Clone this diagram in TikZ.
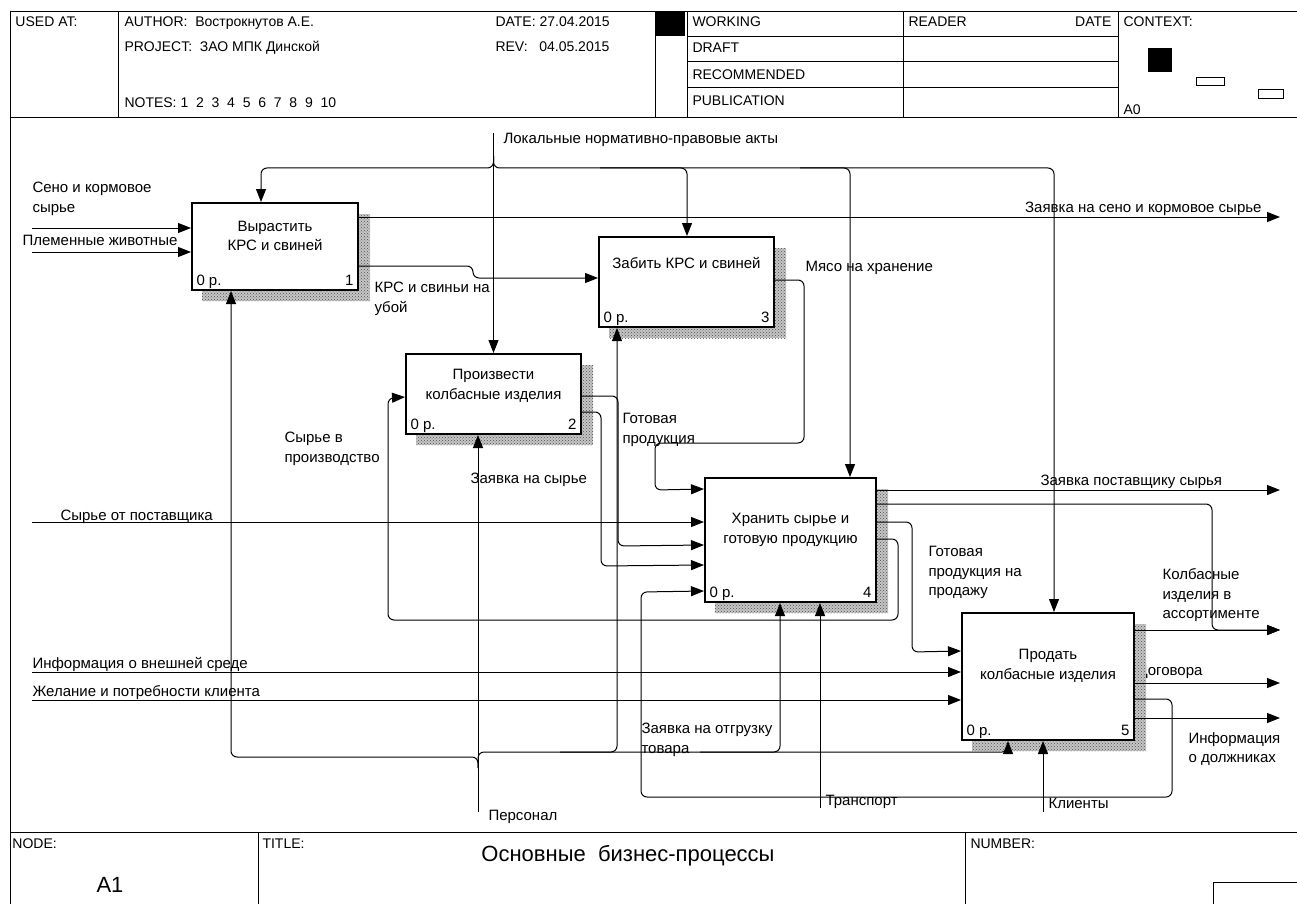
\documentclass[tikz,border=0pt]{standalone}
\usepackage{fontspec}
\setmainfont{Liberation Sans}
\usetikzlibrary{arrows.meta, positioning, calc, patterns}

\begin{document}
\begin{tikzpicture}[x=1pt, y=-1pt, line width=1pt, font=\fontsize{15}{19.5}\selectfont,
    box/.style={draw, line width=2pt, fill=white, inner sep=0pt},
    lbl/.style={inner sep=0pt, align=left, anchor=north west},
    hdr/.style={inner sep=0pt, anchor=base west, font=\fontsize{14}{16}\selectfont},
    shade/.style={pattern=crosshatch dots, pattern color=gray!60!black, preaction={fill=gray!45}},
    arr/.style={-{Triangle[length=13pt, width=10pt]}},
    elbow/.style={rounded corners=6pt}]
    \useasboundingbox (0,0) rectangle (1297,904);

    \draw (10,904) |- (1297,12);
    \draw (10,118) -- (1297,118);
    \draw (10,832) -- (1297,832);
    \foreach \x in {118,655,687,903,1118}
        \draw (\x,12) -- (\x,118);
    \foreach \y in {37,62,88}
        \draw (687,\y) -- (1118,\y);
    \foreach \x in {258,965}
        \draw (\x,832) -- (\x,904);
    \fill (656,12) rectangle (685,36);
    \fill (1148,48) rectangle (1172,72);
    \draw (1196,78) rectangle (1224,86);
    \draw (1258,90) rectangle (1283,99);
    \draw (1213,904) |- (1297,882);

    \foreach \x/\y/\txt [count=\i] in {
        15/27/{USED AT:},
        124/27/{AUTHOR:\ \ Вострокнутов А.Е.},
        124/52/{PROJECT:\ \ ЗАО МПК Динской},
        124/108/{NOTES:\ 1\ \ 2\ \ 3\ \ 4\ \ 5\ \ 6\ \ 7\ \ 8\ \ 9\ \ 10},
        495/27/{DATE: 27.04.2015},
        495/52/{REV:\ \ \ 04.05.2015},
        692/27/{WORKING},
        692/53/{DRAFT},
        692/80/{RECOMMENDED},
        692/106/{PUBLICATION},
        908/27/{READER},
        1123/27/{CONTEXT:},
        1123/115/{A0},
        12/848/{NODE:},
        262/848/{TITLE:},
        970/848/{NUMBER:}}
    {
        \node[hdr] (h\i) at (\x,\y) {\txt};
    }
    \node[hdr, anchor=base east] (hdate) at (1112,27) {DATE};
    \node[font=\fontsize{22}{24}\selectfont] (node) at (110,885) {A1};
    \node[font=\fontsize{22}{24}\selectfont] (title) at (628,856) {Основные\ \ бизнес-процессы};

    \node[lbl] (dog) at (1137,665) {Договора};

    \foreach \i/\cx/\cy/\w/\h/\ty/\txt in {
        1/275/246.5/166/87/236/{Вырастить\\КРС и свиней},
        2/493.5/394/175/80/386/{Произвести\\колбасные изделия},
        3/686.5/282/175/90/263/{Забить КРС и свиней},
        4/790.5/540/171/124/530/{Хранить сырье и\\готовую продукцию},
        5/1048/676.5/172/127/666/{Продать\\колбасные изделия}}
    {
        \fill[shade] (\cx-\w/2+10,\cy-\h/2+11) rectangle (\cx+\w/2+12,\cy+\h/2+11);
        \node[box, minimum width=\w pt, minimum height=\h pt] (b\i) at (\cx,\cy) {};
        \node[align=center] (t\i) at (\cx,\ty) {\txt};
        \node[anchor=base west, inner sep=0pt] (p\i) at ([xshift=5pt, yshift=6pt]b\i.south west) {0 р.};
        \node[anchor=base east, inner sep=0pt] (k\i) at ([xshift=-5pt, yshift=6pt]b\i.south east) {\i};
    }

    \foreach \c/\x/\y in {sn/32/228, pz/32/252, sp/32/522, iv/32/672, zk/32/700,
        zs/1280/217, zp/1280/490, ka/1280/630, dg/1280/683, id/1280/718,
        lk/493.5/133, ps/478/812, tr/820/808, kl/1043/812}
        \coordinate (\c) at (\x,\y);

    \foreach \c/\b in {sn/1, pz/1, sp/4, iv/5, zk/5}
        \draw[arr] (\c) -- (\c -| b\b.west);
    \foreach \c/\b in {zs/1, zp/4, ka/5, dg/5, id/5}
        \draw[arr] (b\b.east |- \c) -- (\c);
    \draw[arr] (lk) -- (b2.north);
    \foreach \c/\b in {ps/2, tr/4, kl/5}
        \draw[arr] (\c) -- (\c |- b\b.south);

    \draw[arr, elbow] (493.5,156) |- (400,168) -| ($(b1.north west)+(70,0)$);
    \draw[arr, elbow] (493.5,156) |- (600,168) -| ($(b3.north west)+(89,0)$);
    \draw[arr, elbow] (600,168) -| ($(b4.north west)+(146,0)$);
    \draw[arr, elbow] (800,168) -| ($(b5.north west)+(93,0)$);

    \draw[arr, elbow] (478,768) |- (300,757) -| ($(b1.south west)+(40,0)$);
    \draw[arr, elbow] (478,768) |- (560,752) -| ($(b3.south west)+(19,0)$);
    \draw[arr, elbow] (560,752) -| ($(b4.south west)+(76,0)$);
    \draw[arr, elbow] (700,752) -| ($(b5.south west)+(47,0)$);

    \draw[arr, elbow] ($(b1.north east)+(0,64)$) -| ($(b3.north west)+(-125,42)$) -- ($(b3.north west)+(0,42)$);
    \draw[arr, elbow] ($(b3.north east)+(0,44)$) -| (804,443) -| (655,490) -- ($(b4.north west)+(0,12)$);
    \draw[arr, elbow] ($(b2.north east)+(0,43)$) -| (618,546) -- ($(b4.north west)+(0,68)$);
    \draw[arr, elbow] ($(b2.north east)+(0,59)$) -| (601,566) -- ($(b4.north west)+(0,88)$);
    \draw[arr, elbow] ($(b4.north east)+(0,27)$) -| (1212,630) -- (ka);
    \draw[arr, elbow] ($(b4.north east)+(0,45)$) -| (912,652) -- ($(b5.north west)+(0,39)$);
    \draw[arr, elbow] ($(b4.north east)+(0,62)$) -| (898,620) -| (388,398) -- ($(b2.north west)+(0,44)$);
    \draw[arr, elbow] ($(b5.north east)+(0,87)$) -| (1172,797) -| (641,592) -- ($(b4.north west)+(0,114)$);

    \foreach \x/\y/\txt [count=\i] in {
        32/182/{Сено и кормовое\\сырье},
        22/235/{Племенные животные},
        374/282/{КРС и свиньи на\\убой},
        503/133/{Локальные нормативно-правовые акты},
        805/261/{Мясо на хранение},
        284/432/{Сырье в\\производство},
        470/473/{Заявка на сырье},
        622/413/{Готовая\\продукция},
        60/510/{Сырье от поставщика},
        1040/475/{Заявка поставщику сырья},
        928/546/{Готовая\\продукция на\\продажу},
        1162/568/{Колбасные\\изделия в\\ассортименте},
        32/657/{Информация о внешней среде},
        32/685/{Желание и потребности клиента},
        641/723/{Заявка на отгрузку\\товара},
        1188/732/{Информация\\о должниках},
        488/810/{Персонал},
        825/795/{Транспорт},
        1048/798/{Клиенты}}
    {
        \node[lbl] (l\i) at (\x,\y) {\txt};
    }
    \node[lbl, anchor=north east] (zsl) at (1262,202) {Заявка на сено и кормовое сырье};
\end{tikzpicture}
\end{document}
